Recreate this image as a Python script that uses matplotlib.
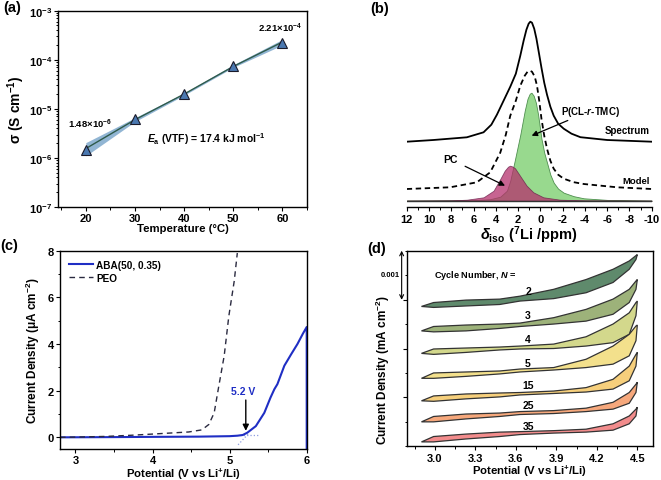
import numpy as np
import matplotlib
matplotlib.use('Agg')
import matplotlib.pyplot as plt
from matplotlib.ticker import MultipleLocator, NullFormatter

plt.rcParams['font.family'] = ['Liberation Sans', 'DejaVu Sans']
plt.rcParams['font.weight'] = 'bold'
plt.rcParams['axes.labelweight'] = 'bold'
plt.rcParams['axes.unicode_minus'] = False
plt.rcParams['mathtext.fontset'] = 'custom'
plt.rcParams['mathtext.rm'] = 'Liberation Sans:bold'
plt.rcParams['mathtext.bf'] = 'Liberation Sans:bold'
plt.rcParams['mathtext.it'] = 'Liberation Sans:italic:bold'
plt.rcParams['xtick.direction'] = 'out'
plt.rcParams['ytick.direction'] = 'out'

# (a) conductividad vs temperatura
temp_c = [20, 30, 40, 50, 60]
sigma = [1.48e-6, 6.1e-6, 2.0e-5, 7.5e-5, 2.21e-4]
fit_sigma = [1.55e-6, 6.0e-6, 2.0e-5, 7.3e-5, 2.3e-4]
band_hi = [2.05e-6, 6.6e-6, 2.1e-5, 7.9e-5, 2.6e-4]
band_lo = [1.1e-6, 5.5e-6, 1.9e-5, 7.0e-5, 2.0e-4]

# (b) espectro 7Li
spec_ppm = [12, 9.6, 6.6, 5.1, 4.4, 3.9, 3.3, 2.7, 2.2, 1.8, 1.5, 1.25, 1.05,
            0.9, 0.75, 0.55, 0.35, 0.1, -0.1, -0.35, -0.6, -0.9, -1.2,
            -1.6, -2.1, -2.8, -3.6, -6.0, -10]
spec_y = [59, 60.7, 63.4, 68.4, 76, 86, 100, 114, 127, 145, 160, 171, 177,
          179, 178, 172, 162, 146, 133, 118, 106, 94, 85, 77, 72, 67, 63.5,
          60.7, 59]
model_ppm = [12, 8.1, 5.7, 4.5, 3.6, 3.1, 2.7, 2.2, 1.8, 1.4, 1.15, 0.95,
             0.75, 0.5, 0.3, 0.1, -0.1, -0.35, -0.6, -0.9, -1.2, -1.6,
             -2.1, -3.0, -3.9, -6.9, -10]
model_y = [11.7, 13.4, 18.4, 28.4, 48, 66, 85, 100, 115, 125, 129, 130,
           129, 124, 115, 100, 82, 65, 52, 40, 32, 26, 22, 18.5, 16.7,
           13.4, 11.7]
green_ppm = [12, 6, 4.5, 3.6, 3.0, 2.7, 2.3, 1.8, 1.4, 1.15, 0.95, 0.8,
             0.6, 0.4, 0.2, -0.1, -0.35, -0.6, -0.9, -1.2, -1.6, -2.1, -3.0,
             -3.9, -6, -10]
green_y = [0, 0.5, 1.5, 4, 10, 20, 40, 66, 90, 102, 107, 108, 105, 98, 86,
           62, 48, 38, 26, 18, 12, 8, 4.5, 2.4, 0.8, 0]
pc_ppm = [12, 8, 6.6, 5.1, 4.2, 3.6, 3.2, 2.9, 2.72, 2.5, 2.27, 1.83, 1.23,
          0.63, -0.27, -1.77, -4, -10]
pc_y = [0, 0.3, 1, 3.4, 10, 21.7, 30, 34, 35, 34.2, 32.4, 25, 15, 8.4, 3.4,
        1, 0.3, 0]

# (c) LSV
peo_v = [2.8, 3.0, 3.4, 3.73, 4.0, 4.47, 4.64, 4.73, 4.8, 4.86, 4.93, 4.99,
         5.06, 5.1]
peo_j = [0.0, 0.01, 0.04, 0.09, 0.14, 0.23, 0.32, 0.55, 1.05, 2.2, 3.5, 5.2,
         6.7, 7.9]
aba_v = [2.8, 3.5, 4.0, 4.6, 5.0, 5.1, 5.17, 5.23, 5.34, 5.45, 5.53, 5.58,
         5.62, 5.71, 5.8, 5.88, 5.95, 6.0, 6.0]
aba_j = [0.0, 0.01, 0.02, 0.03, 0.05, 0.07, 0.1, 0.2, 0.48, 1.05, 1.7, 2.06,
         2.28, 3.07, 3.57, 4.0, 4.44, 4.73, -0.5]
tan1_v = [5.14, 5.38]
tan1_j = [0.1, 0.1]
tan2_v = [5.11, 5.24]
tan2_j = [-0.32, 0.14]

# (d) CV, en unidades de 0.001 mA cm-2
cv_v = [2.90, 2.99, 3.23, 3.48, 3.63, 3.88, 4.12, 4.32, 4.44, 4.49, 4.50]
cycles = ['2', '3', '4', '5', '15', '25', '35']
cv_up = [
    [2.86, 2.94, 2.99, 3.01, 3.07, 3.21, 3.41, 3.62, 3.79, 3.90, 3.92],
    [2.36, 2.45, 2.48, 2.50, 2.52, 2.63, 2.80, 3.01, 3.21, 3.38, 3.41],
    [1.90, 1.99, 2.01, 2.03, 2.05, 2.09, 2.24, 2.50, 2.73, 2.94, 2.97],
    [1.39, 1.50, 1.52, 1.54, 1.58, 1.61, 1.78, 2.05, 2.29, 2.46, 2.48],
    [0.93, 1.03, 1.07, 1.09, 1.10, 1.13, 1.20, 1.37, 1.64, 1.88, 1.92],
    [0.50, 0.61, 0.66, 0.68, 0.71, 0.73, 0.78, 0.90, 1.10, 1.27, 1.31],
    [0.09, 0.20, 0.25, 0.29, 0.30, 0.32, 0.35, 0.46, 0.62, 0.76, 0.80],
]
cv_low = [
    [2.86, 2.84, 2.87, 2.90, 2.97, 3.02, 3.14, 3.35, 3.62, 3.82, 3.92],
    [2.36, 2.34, 2.36, 2.41, 2.45, 2.50, 2.56, 2.70, 2.94, 3.21, 3.41],
    [1.90, 1.88, 1.92, 1.97, 1.99, 2.00, 2.05, 2.12, 2.29, 2.67, 2.97],
    [1.39, 1.39, 1.43, 1.48, 1.52, 1.56, 1.61, 1.68, 1.85, 2.16, 2.48],
    [0.93, 0.92, 0.97, 1.01, 1.05, 1.08, 1.11, 1.17, 1.34, 1.64, 1.92],
    [0.50, 0.50, 0.56, 0.61, 0.65, 0.67, 0.71, 0.76, 0.88, 1.10, 1.31],
    [0.09, 0.09, 0.15, 0.20, 0.24, 0.27, 0.29, 0.33, 0.46, 0.62, 0.80],
]
cycle_label_y = [3.18, 2.68, 2.19, 1.70, 1.26, 0.85, 0.41]
cv_colors = ['#5f8a6c', '#9db27a', '#d3d88c', '#f3e08c', '#f6cf7c',
             '#f6a87c', '#f28c8c']

W, H = 661, 481
fig = plt.figure(figsize=(W / 100, H / 100), dpi=100)


def box(l, t, r, b):
    return [l / W, 1 - b / H, (r - l) / W, (b - t) / H]


TICK = 8
XLAB = 8.2
YLAB = 8.5

# ---------- (a)
ax1 = fig.add_axes(box(58.3, 11.7, 307, 208))
ax1.fill_between(temp_c, band_lo, band_hi, color='#7ea8cc', alpha=0.85, lw=0)
ax1.plot(temp_c, fit_sigma, color='#2e5a4a', lw=1)
ax1.plot(temp_c, sigma, ls='none', marker='^', ms=7, mfc='#4a78b0',
         mec='#1a1a2a', mew=0.8)
ax1.set_yscale('log')
ax1.set_ylim(1e-7, 1e-3)
ax1.set_xlim(14.4, 65)
ax1.set_xticks([20, 30, 40, 50, 60])
ax1.xaxis.set_minor_locator(MultipleLocator(5))
ax1.set_xlabel('Temperature (°C)', fontsize=XLAB, labelpad=0)
ax1.set_ylabel(r'σ (S cm$^{-1}$)', fontsize=10, labelpad=1)
ax1.text(20.8, 4.3e-6, r'1.48×10$^{-6}$', fontsize=6.8, ha='center')
ax1.text(59.6, 3.9e-4, r'2.21×10$^{-4}$', fontsize=6.8, ha='center')
ax1.text(44.6, 2.1e-6, r'$\it{E}_{\rm a}$ (VTF) = 17.4 kJ mol$^{-1}$',
         fontsize=7.5, ha='center')

# ---------- (b)
ax2 = fig.add_axes(box(406.7, 11.7, 651.7, 208.3))
ax2.fill_between(green_ppm, 0, green_y, facecolor='#98d98e',
                 edgecolor='#4f8f4f', lw=0.6)
ax2.fill_between(pc_ppm, 0, pc_y, facecolor='#b5306c', alpha=0.75,
                 edgecolor='#6a1f4a', lw=0.6)
ax2.axhline(0, color='#333333', lw=1)
ax2.plot(model_ppm, model_y, color='black', lw=1.3, dashes=(3, 2))
ax2.plot(spec_ppm, spec_y, color='black', lw=1.3)
ax2.set_xlim(12, -10)
ax2.set_ylim(-6.6, 190)
ax2.set_xticks(range(12, -11, -2))
ax2.xaxis.set_minor_locator(MultipleLocator(1))
ax2.set_yticks([])
for s in ['left', 'top', 'right']:
    ax2.spines[s].set_visible(False)
ax2.set_xlabel(r'$\it{δ}_{\rm iso}$ ($^{7}$Li /ppm)', fontsize=10.5,
               labelpad=0)
ax2.text(-9.8, 65.7, 'Spectrum', fontsize=7, ha='right', va='bottom')
ax2.text(-9.8, 16, 'Model', fontsize=6.8, ha='right', va='bottom')
ax2.annotate(r'P(CL-$\it{r}$-TMC)', xy=(0.78, 65), xytext=(-1.9, 90),
             fontsize=7, ha='left', va='center',
             arrowprops=dict(arrowstyle='-|>', color='black', lw=0.9,
                             mutation_scale=8, shrinkA=0, shrinkB=0))
ax2.annotate('PC', xy=(3.17, 15), xytext=(8.1, 41.7), fontsize=7.5,
             ha='center', va='center',
             arrowprops=dict(arrowstyle='-|>', color='black', lw=0.9,
                             mutation_scale=8, shrinkA=4, shrinkB=0))

# ---------- (c)
ax3 = fig.add_axes(box(60, 251.7, 306.7, 450))
ax3.plot(tan1_v, tan1_j, color='#8f9ee0', lw=0.9, ls=':')
ax3.plot(tan2_v, tan2_j, color='#8f9ee0', lw=0.9, ls=':')
ax3.plot(aba_v, aba_j, color='#1f2ec4', lw=1.5, label='ABA(50, 0.35)')
ax3.plot(peo_v, peo_j, color='#2a2a40', lw=1, dashes=(4, 3), label='PEO')
ax3.set_xlim(2.8, 6)
ax3.set_ylim(-0.5, 8)
ax3.set_xticks([3, 4, 5, 6])
ax3.xaxis.set_minor_locator(MultipleLocator(0.5))
ax3.set_yticks([0, 2, 4, 6, 8])
ax3.yaxis.set_minor_locator(MultipleLocator(1))
ax3.set_xlabel(r'Potential (V vs Li$^{+}$/Li)', fontsize=XLAB, labelpad=0)
ax3.set_ylabel(r'Current Density (μA cm$^{-2}$)', fontsize=YLAB, labelpad=4)
ax3.legend(loc='upper left', frameon=False, fontsize=7.2, handlelength=2.4,
           handletextpad=0.3, labelspacing=0.3, borderaxespad=0.5)
ax3.annotate('', xy=(5.21, 0.28), xytext=(5.21, 1.6),
             arrowprops=dict(arrowstyle='-|>', color='black', lw=1,
                             mutation_scale=9, shrinkA=0, shrinkB=0))
ax3.text(5.18, 2.0, '5.2 V', color='#1f2ec4', fontsize=7.5, ha='center',
         va='center')

# ---------- (d)
ax4 = fig.add_axes(box(407.3, 251.7, 652.7, 447.3))
for up, low, c in zip(cv_up, cv_low, cv_colors):
    ax4.fill(np.concatenate([cv_v, cv_v[::-1]]),
             np.concatenate([up, low[::-1]]),
             facecolor=c, edgecolor='#333333', lw=0.9)
for lab, yl in zip(cycles, cycle_label_y):
    ax4.text(3.69, yl, lab, fontsize=7.5, ha='center', va='center')
ax4.text(3.30, 3.52, r'Cycle Number, $\it{N}$ =', fontsize=6.6,
         ha='center', va='center')
ax4.set_xlim(2.795, 4.614)
ax4.set_ylim(0, 4)
ax4.set_xticks([3.0, 3.3, 3.6, 3.9, 4.2, 4.5])
ax4.xaxis.set_minor_locator(MultipleLocator(0.15))
ax4.set_yticks([1, 2, 3])
ax4.yaxis.set_minor_locator(MultipleLocator(0.5))
ax4.yaxis.set_major_formatter(NullFormatter())
ax4.set_xlabel(r'Potential (V vs Li$^{+}$/Li)', fontsize=XLAB, labelpad=0)
ax4.set_ylabel(r'Current Density (mA cm$^{-2}$)', fontsize=YLAB)
ax4.yaxis.set_label_coords(-0.064, 0.395)
ax4.annotate('', xy=(-0.023, 1.0), xytext=(-0.023, 0.749),
             xycoords='axes fraction', annotation_clip=False,
             arrowprops=dict(arrowstyle='<->', color='black', lw=0.8,
                             mutation_scale=7, shrinkA=0, shrinkB=0))
ax4.text(-0.07, 0.88, '0.001', transform=ax4.transAxes, fontsize=5.5,
         ha='center', va='center')

for ax in [ax1, ax2, ax3, ax4]:
    ax.tick_params(which='major', length=3, width=0.8, labelsize=TICK,
                   pad=1.5)
    ax.tick_params(which='minor', length=1.8, width=0.7)
    for s in ax.spines.values():
        s.set_linewidth(1)

fig.text(3 / W, 1 - 8 / H, '(a)', fontsize=10.5, va='center')
fig.text(370 / W, 1 - 9 / H, '(b)', fontsize=10.5, va='center')
fig.text(0 / W, 1 - 246 / H, '(c)', fontsize=10.5, va='center')
fig.text(367 / W, 1 - 249 / H, '(d)', fontsize=10.5, va='center')

fig.savefig('out.png', dpi=100)
